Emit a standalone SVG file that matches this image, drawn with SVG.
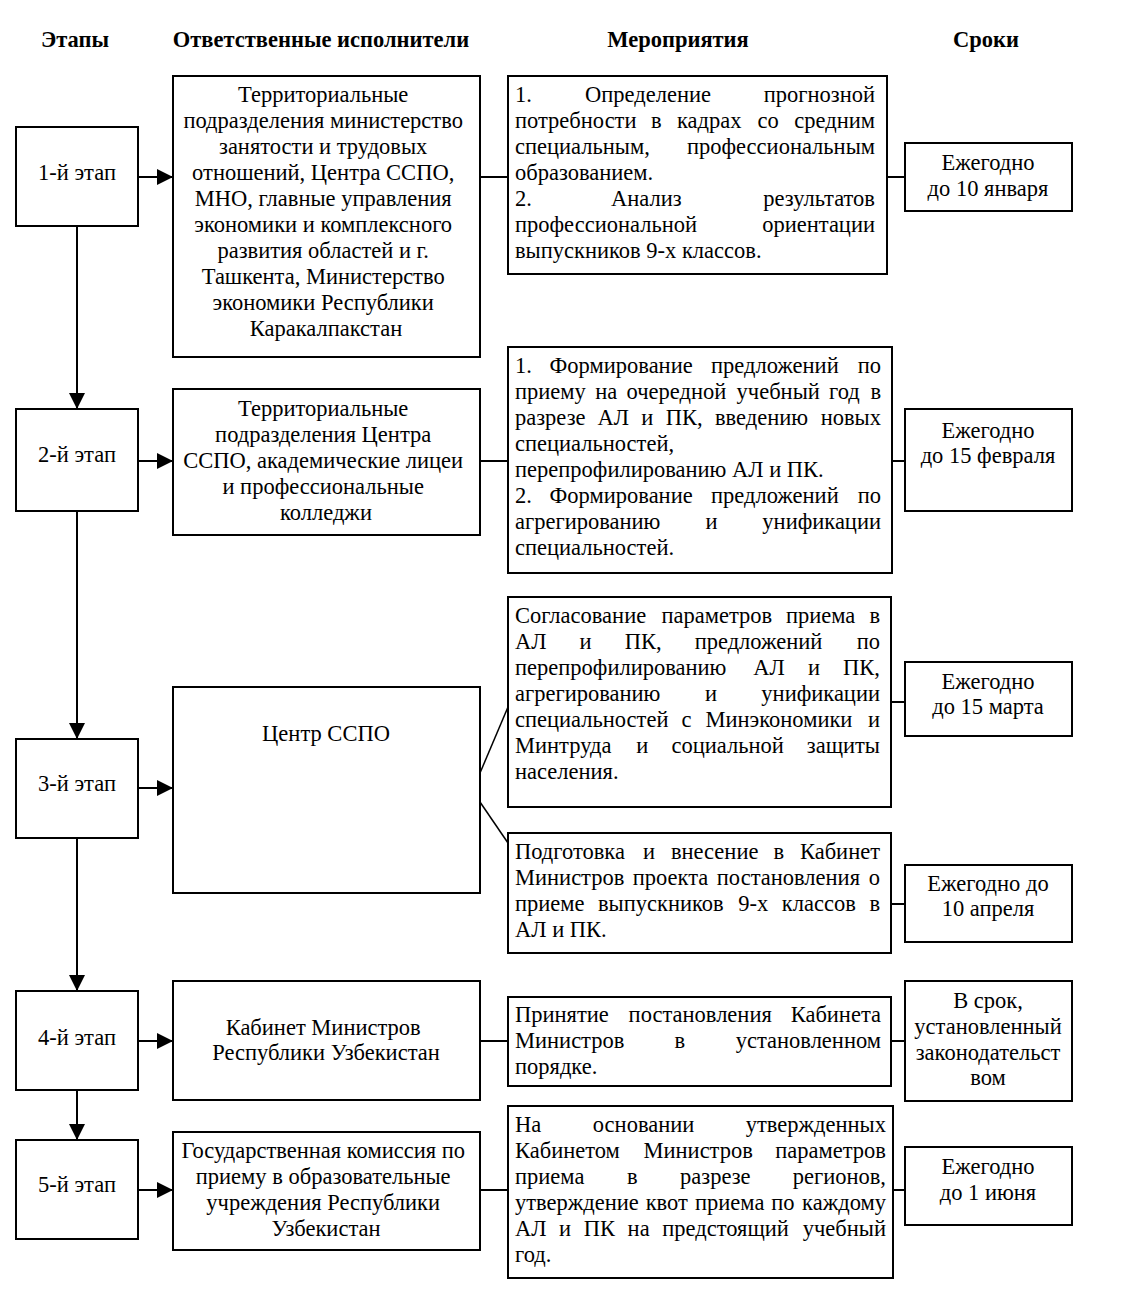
<svg xmlns="http://www.w3.org/2000/svg" width="1137" height="1299" viewBox="0 0 1137 1299">
<style>
.box{fill:#fff;stroke:#000;stroke-width:2}
.ln{stroke:#000;stroke-width:2;fill:none}
.dg{stroke:#000;stroke-width:1.5;fill:none}
text{font-family:"Liberation Serif","Times New Roman",serif;font-size:22.5px;fill:#000}
.c{text-anchor:middle}
.e{text-anchor:end}
.h{font-weight:bold;font-size:22.5px;text-anchor:middle}
</style>
<defs>
<marker id="ar" markerUnits="userSpaceOnUse" markerWidth="16" markerHeight="16" viewBox="0 0 16 16" refX="16" refY="8" orient="auto">
<path d="M0,0 L16,8 L0,16 z" fill="#000"/>
</marker>
</defs>
<rect width="1137" height="1299" fill="#fff"/>

<g id="headers">
<text class="h" x="75" y="47">Этапы</text>
<text class="h" x="321" y="47">Ответственные исполнители</text>
<text class="h" x="678" y="47">Мероприятия</text>
<text class="h" x="986" y="47">Сроки</text>
</g>

<g id="connectors">
<line class="ln" x1="138" y1="177" x2="173" y2="177" marker-end="url(#ar)"/>
<line class="ln" x1="138" y1="461" x2="173" y2="461" marker-end="url(#ar)"/>
<line class="ln" x1="138" y1="788" x2="173" y2="788" marker-end="url(#ar)"/>
<line class="ln" x1="138" y1="1041" x2="173" y2="1041" marker-end="url(#ar)"/>
<line class="ln" x1="138" y1="1190" x2="173" y2="1190" marker-end="url(#ar)"/>
<line class="ln" x1="77" y1="226" x2="77" y2="409" marker-end="url(#ar)"/>
<line class="ln" x1="77" y1="511" x2="77" y2="739" marker-end="url(#ar)"/>
<line class="ln" x1="77" y1="838" x2="77" y2="991" marker-end="url(#ar)"/>
<line class="ln" x1="77" y1="1090" x2="77" y2="1140" marker-end="url(#ar)"/>
<line class="ln" x1="480" y1="177" x2="508" y2="177"/>
<line class="ln" x1="480" y1="461" x2="508" y2="461"/>
<line class="dg" x1="480" y1="773" x2="508" y2="707"/>
<line class="dg" x1="480" y1="802" x2="508" y2="843"/>
<line class="ln" x1="480" y1="1041" x2="508" y2="1041"/>
<line class="ln" x1="480" y1="1190" x2="508" y2="1190"/>
<line class="ln" x1="887" y1="177" x2="905" y2="177"/>
<line class="ln" x1="892" y1="461" x2="905" y2="461"/>
<line class="ln" x1="891" y1="702" x2="905" y2="702"/>
<line class="ln" x1="891" y1="904" x2="905" y2="904"/>
<line class="ln" x1="891" y1="1041" x2="905" y2="1041"/>
<line class="ln" x1="893" y1="1190" x2="905" y2="1190"/>
</g>

<g id="stage1"><rect class="box" x="16" y="127" width="122" height="99"/><text class="c" x="77" y="180">1-й этап</text></g>
<g id="stage2"><rect class="box" x="16" y="409" width="122" height="102"/><text class="c" x="77" y="462">2-й этап</text></g>
<g id="stage3"><rect class="box" x="16" y="739" width="122" height="99"/><text class="c" x="77" y="791">3-й этап</text></g>
<g id="stage4"><rect class="box" x="16" y="991" width="122" height="99"/><text class="c" x="77" y="1045">4-й этап</text></g>
<g id="stage5"><rect class="box" x="16" y="1140" width="122" height="99"/><text class="c" x="77" y="1192">5-й этап</text></g>

<g id="resp1"><rect class="box" x="173" y="76" width="307" height="281"/>
<text class="c">
<tspan x="326" y="102">Территориальные</tspan>
<tspan x="326" y="128">подразделения министерство</tspan>
<tspan x="326" y="154">занятости и трудовых</tspan>
<tspan x="326" y="180">отношений, Центра ССПО,</tspan>
<tspan x="326" y="206">МНО, главные управления</tspan>
<tspan x="326" y="232">экономики и комплексного</tspan>
<tspan x="326" y="258">развития областей и г.</tspan>
<tspan x="326" y="284">Ташкента, Министерство</tspan>
<tspan x="326" y="310">экономики Республики</tspan>
<tspan x="326" y="336">Каракалпакстан</tspan>
</text></g>
<g id="resp2"><rect class="box" x="173" y="389" width="307" height="146"/>
<text class="c">
<tspan x="326" y="416">Территориальные</tspan>
<tspan x="326" y="442">подразделения Центра</tspan>
<tspan x="326" y="468">ССПО, академические лицеи</tspan>
<tspan x="326" y="494">и профессиональные</tspan>
<tspan x="326" y="520">колледжи</tspan>
</text></g>
<g id="resp3"><rect class="box" x="173" y="687" width="307" height="206"/>
<text class="c" x="326" y="741">Центр ССПО</text></g>
<g id="resp4"><rect class="box" x="173" y="981" width="307" height="119"/>
<text class="c">
<tspan x="326" y="1035">Кабинет Министров</tspan>
<tspan x="326" y="1060">Республики Узбекистан</tspan>
</text></g>
<g id="resp5"><rect class="box" x="173" y="1132" width="307" height="118"/>
<text class="c">
<tspan x="326" y="1158">Государственная комиссия по</tspan>
<tspan x="326" y="1184">приему в образовательные</tspan>
<tspan x="326" y="1210">учреждения Республики</tspan>
<tspan x="326" y="1236">Узбекистан</tspan>
</text></g>

<g id="act1"><rect class="box" x="508" y="76" width="379" height="198"/>
<text y="102"><tspan x="515">1.</tspan><tspan x="585">Определение</tspan></text><text class="e" x="875" y="102">прогнозной</text>
<text y="128"><tspan x="515">потребности</tspan><tspan x="651">в</tspan><tspan x="677">кадрах</tspan><tspan x="757.5">со</tspan></text><text class="e" x="875" y="128">средним</text>
<text x="515" y="154">специальным,</text><text class="e" x="875" y="154">профессиональным</text>
<text x="515" y="180">образованием.</text>
<text y="206"><tspan x="515">2.</tspan><tspan x="611">Анализ</tspan></text><text class="e" x="875" y="206">результатов</text>
<text x="515" y="232">профессиональной</text><text class="e" x="875" y="232">ориентации</text>
<text x="515" y="258">выпускников 9-х классов.</text>
</g>

<g id="act2"><rect class="box" x="508" y="347" width="384" height="226"/>
<text y="373"><tspan x="515">1.</tspan><tspan x="549.6">Формирование</tspan><tspan x="711">предложений</tspan></text><text class="e" x="881" y="373">по</text>
<text y="399"><tspan x="515">приему</tspan><tspan x="595.2">на</tspan><tspan x="626.6">очередной</tspan><tspan x="736.6">учебный</tspan><tspan x="829">год</tspan></text><text class="e" x="881" y="399">в</text>
<text y="425"><tspan x="515">разрезе</tspan><tspan x="597.6">АЛ</tspan><tspan x="641.3">и</tspan><tspan x="665.7">ПК,</tspan><tspan x="714.9">введению</tspan></text><text class="e" x="881" y="425">новых</text>
<text x="515" y="451">специальностей,</text>
<text x="515" y="477">перепрофилированию АЛ и ПК.</text>
<text y="503"><tspan x="515">2.</tspan><tspan x="549.6">Формирование</tspan><tspan x="711">предложений</tspan></text><text class="e" x="881" y="503">по</text>
<text y="529"><tspan x="515">агрегированию</tspan><tspan x="705.4">и</tspan></text><text class="e" x="881" y="529">унификации</text>
<text x="515" y="555">специальностей.</text>
</g>

<g id="act3a"><rect class="box" x="508" y="597" width="383" height="210"/>
<text y="623"><tspan x="515">Согласование</tspan><tspan x="661.5">параметров</tspan><tspan x="785.9">приема</tspan></text><text class="e" x="880" y="623">в</text>
<text y="649"><tspan x="515">АЛ</tspan><tspan x="579.5">и</tspan><tspan x="624.7">ПК,</tspan><tspan x="694.7">предложений</tspan></text><text class="e" x="880" y="649">по</text>
<text y="675"><tspan x="515">перепрофилированию</tspan><tspan x="753.3">АЛ</tspan><tspan x="807.9">и</tspan></text><text class="e" x="880" y="675">ПК,</text>
<text y="701"><tspan x="515">агрегированию</tspan><tspan x="704.9">и</tspan></text><text class="e" x="880" y="701">унификации</text>
<text y="727"><tspan x="515">специальностей</tspan><tspan x="681.6">с</tspan><tspan x="705.5">Минэкономики</tspan></text><text class="e" x="880" y="727">и</text>
<text y="753"><tspan x="515">Минтруда</tspan><tspan x="636.2">и</tspan><tspan x="671.5">социальной</tspan></text><text class="e" x="880" y="753">защиты</text>
<text x="515" y="779">населения.</text>
</g>

<g id="act3b"><rect class="box" x="508" y="833" width="383" height="120"/>
<text y="859"><tspan x="515">Подготовка</tspan><tspan x="643">и</tspan><tspan x="670.9">внесение</tspan><tspan x="773.5">в</tspan></text><text class="e" x="880" y="859">Кабинет</text>
<text y="885"><tspan x="515">Министров</tspan><tspan x="632.8">проекта</tspan><tspan x="716.8">постановления</tspan></text><text class="e" x="880" y="885">о</text>
<text y="911"><tspan x="515">приеме</tspan><tspan x="598">выпускников</tspan><tspan x="738.3">9-х</tspan><tspan x="781.8">классов</tspan></text><text class="e" x="880" y="911">в</text>
<text x="515" y="937">АЛ и ПК.</text>
</g>

<g id="act4"><rect class="box" x="508" y="997" width="383" height="89"/>
<text y="1022"><tspan x="515">Принятие</tspan><tspan x="628.6">постановления</tspan></text><text class="e" x="881" y="1022">Кабинета</text>
<text y="1048"><tspan x="515">Министров</tspan><tspan x="674.4">в</tspan></text><text class="e" x="881" y="1048">установленном</text>
<text x="515" y="1074">порядке.</text>
</g>

<g id="act5"><rect class="box" x="508" y="1106" width="385" height="172"/>
<text y="1132"><tspan x="515">На</tspan><tspan x="592.8">основании</tspan></text><text class="e" x="886" y="1132">утвержденных</text>
<text y="1158"><tspan x="515">Кабинетом</tspan><tspan x="643.5">Министров</tspan></text><text class="e" x="886" y="1158">параметров</text>
<text y="1184"><tspan x="515">приема</tspan><tspan x="627">в</tspan><tspan x="680.1">разрезе</tspan></text><text class="e" x="886" y="1184">регионов,</text>
<text y="1210"><tspan x="515">утверждение</tspan><tspan x="645.7">квот</tspan><tspan x="695">приема</tspan><tspan x="771.2">по</tspan></text><text class="e" x="886" y="1210">каждому</text>
<text y="1236"><tspan x="515">АЛ</tspan><tspan x="559">и</tspan><tspan x="583.7">ПК</tspan><tspan x="627.6">на</tspan><tspan x="662.3">предстоящий</tspan></text><text class="e" x="886" y="1236">учебный</text>
<text x="515" y="1262">год.</text>
</g>

<g id="date1"><rect class="box" x="905" y="143" width="167" height="68"/>
<text class="c"><tspan x="988" y="170">Ежегодно</tspan><tspan x="988" y="196">до 10 января</tspan></text></g>
<g id="date2"><rect class="box" x="905" y="409" width="167" height="102"/>
<text class="c"><tspan x="988" y="438">Ежегодно</tspan><tspan x="988" y="463">до 15 февраля</tspan></text></g>
<g id="date3a"><rect class="box" x="905" y="662" width="167" height="74"/>
<text class="c"><tspan x="988" y="689">Ежегодно</tspan><tspan x="988" y="714">до 15 марта</tspan></text></g>
<g id="date3b"><rect class="box" x="905" y="865" width="167" height="77"/>
<text class="c"><tspan x="988" y="891">Ежегодно до</tspan><tspan x="988" y="916">10 апреля</tspan></text></g>
<g id="date4"><rect class="box" x="905" y="981" width="167" height="120"/>
<text class="c"><tspan x="988" y="1008">В срок,</tspan><tspan x="988" y="1034">установленный</tspan><tspan x="988" y="1060">законодательст</tspan><tspan x="988" y="1085">вом</tspan></text></g>
<g id="date5"><rect class="box" x="905" y="1147" width="167" height="78"/>
<text class="c"><tspan x="988" y="1174">Ежегодно</tspan><tspan x="988" y="1200">до 1 июня</tspan></text></g>
</svg>
